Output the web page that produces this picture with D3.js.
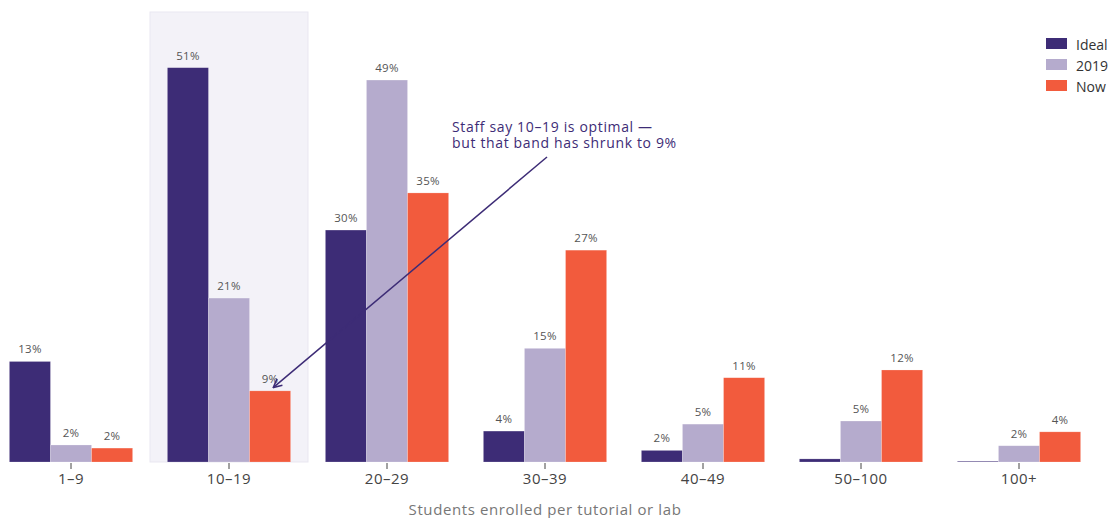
<!DOCTYPE html>
<html>
<head>
<meta charset="utf-8">
<script src="https://cdn.jsdelivr.net/npm/d3@7"></script>
<style>
  body { margin: 0; background: #fff; }
  svg { font-family: "Open Sans", sans-serif; }
</style>
</head>
<body>
<svg id="chart" width="1110" height="518"></svg>
<script>
const categories = ["1–9", "10–19", "20–29", "30–39", "40–49", "50–100", "100+"];
const seriesNames = ["Ideal", "2019", "Now"];
const ideal = [13, 51, 30, 4, 1.5, 0.4, 0.1];
const y2019 = [2.2, 21.2, 49.4, 14.7, 4.9, 5.3, 2.1];
const now = [1.8, 9.2, 34.8, 27.4, 10.9, 11.9, 3.9];
const seriesColors = ["#3d2c76", "#b5abcd", "#f25b3d"];
const highlightCategory = "10–19";
const annotationLines = ["Staff say 10–19 is optimal —", "but that band has shrunk to 9%"];

const seriesValues = [ideal, y2019, now];
const svg = d3.select("#chart");
const W = 1110, H = 518;
const margin = { top: 12, right: 12, bottom: 56, left: -8 };

const x = d3.scaleBand()
  .domain(categories)
  .range([margin.left, W - margin.right])
  .paddingInner(0.22)
  .paddingOuter(0.11);

const x1 = d3.scaleBand()
  .domain(seriesNames)
  .range([0, x.bandwidth()]);

const y = d3.scaleLinear()
  .domain([0, 58.2])
  .range([H - margin.bottom, margin.top]);

// highlighted band
const step = x.step();
svg.append("rect")
  .attr("x", x(highlightCategory) + x.bandwidth() / 2 - step / 2)
  .attr("y", y(58.2))
  .attr("width", step)
  .attr("height", y(0) - y(58.2))
  .attr("fill", "#f3f2f8")
  .attr("stroke", "#e9e7f1")
  .attr("stroke-width", 1);

// bars
const groups = svg.append("g")
  .selectAll("g")
  .data(categories)
  .join("g")
  .attr("transform", d => `translate(${x(d)},0)`);

const rows = (c, ci) => seriesNames.map((s, si) => ({ s, si, v: seriesValues[si][ci] }));

groups.selectAll("rect")
  .data((d, i) => rows(d, i))
  .join("rect")
  .attr("x", d => x1(d.s))
  .attr("y", d => y(d.v))
  .attr("width", x1.bandwidth())
  .attr("height", d => y(0) - y(d.v))
  .attr("fill", d => seriesColors[d.si])
  .attr("stroke", "rgba(255,255,255,0.35)")
  .attr("stroke-width", 0.6);

groups.selectAll("text")
  .data((d, i) => rows(d, i).filter(r => r.v >= 1))
  .join("text")
  .attr("x", d => x1(d.s) + x1.bandwidth() / 2)
  .attr("y", d => y(d.v) - 8)
  .attr("text-anchor", "middle")
  .attr("font-size", 11.5)
  .attr("letter-spacing", 0.3)
  .attr("fill", "#555")
  .text(d => Math.round(d.v) + "%");

// x axis
const xAxis = svg.append("g")
  .attr("transform", `translate(0,${y(0)})`)
  .call(d3.axisBottom(x).tickSize(6).tickPadding(5));
xAxis.select(".domain").remove();
xAxis.selectAll(".tick line").attr("stroke", "#444").attr("transform", "translate(0,1)");
xAxis.selectAll(".tick text")
  .attr("font-family", "Open Sans, sans-serif")
  .attr("font-size", 15)
  .attr("letter-spacing", 0.5)
  .attr("fill", "#444");

svg.append("text")
  .attr("x", x(categories[3]) + x.bandwidth() / 2)
  .attr("y", 515)
  .attr("text-anchor", "middle")
  .attr("font-size", 15)
  .attr("letter-spacing", 0.6)
  .attr("fill", "#777")
  .text("Students enrolled per tutorial or lab");

// legend
const legend = svg.append("g").attr("transform", "translate(1046,38)");
seriesNames.forEach((s, i) => {
  const g = legend.append("g").attr("transform", `translate(0,${i * 21})`);
  g.append("rect").attr("width", 21).attr("height", 11).attr("fill", seriesColors[i]);
  g.append("text")
    .attr("x", 30).attr("y", 6)
    .attr("dominant-baseline", "central")
    .attr("font-size", 14)
    .attr("fill", "#333")
    .text(s);
});

// annotation
const nowIdx = categories.indexOf(highlightCategory);
const tipX = x(highlightCategory) + x1("Now") + x1.bandwidth() / 2;
const tipY = y(now[nowIdx]) - 4;

svg.append("defs").append("marker")
  .attr("id", "arrow")
  .attr("viewBox", "0 0 10 10")
  .attr("refX", 8).attr("refY", 5)
  .attr("markerWidth", 7).attr("markerHeight", 7)
  .attr("orient", "auto")
  .append("path")
  .attr("d", "M1,1 L9,5 L1,9")
  .attr("fill", "none")
  .attr("stroke", "#3d2c76")
  .attr("stroke-width", 1.5);

svg.append("line")
  .attr("x1", 547).attr("y1", 157)
  .attr("x2", tipX + 4).attr("y2", tipY)
  .attr("stroke", "#3d2c76")
  .attr("stroke-width", 1.5)
  .attr("marker-end", "url(#arrow)");

const ann = svg.append("text")
  .attr("x", 452).attr("y", 132)
  .attr("font-size", 14)
  .attr("letter-spacing", 0.65)
  .attr("font-weight", 500)
  .attr("fill", "#3d2c76");
annotationLines.forEach((l, i) => {
  ann.append("tspan").attr("x", 452).attr("dy", i === 0 ? 0 : 16).text(l);
});
</script>
</body>
</html>
